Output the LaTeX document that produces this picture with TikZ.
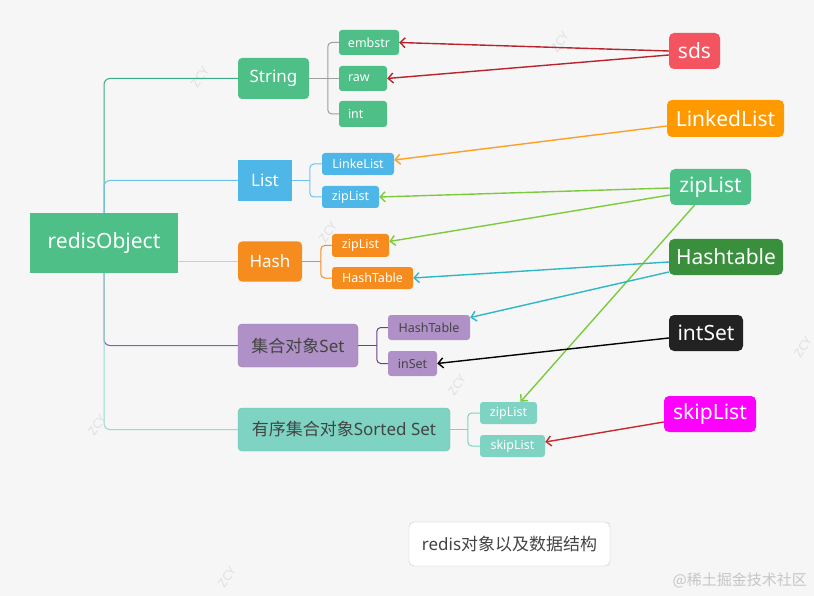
\documentclass[tikz,border=0pt]{standalone}
\usepackage{fontspec}
\setmainfont{Noto Sans}
\newfontfamily\cjk{Noto Sans CJK SC}
\usetikzlibrary{arrows.meta,calc}
\newcommand\fsz[1]{\fontsize{#1}{#1}\selectfont}
\definecolor{bgc}{RGB}{246,246,247}
\definecolor{cgreen}{RGB}{77,191,135}
\definecolor{cblue}{RGB}{78,183,232}
\definecolor{corange}{RGB}{247,140,30}
\definecolor{cpurple}{RGB}{175,145,199}
\definecolor{cpurpled}{RGB}{150,125,170}
\definecolor{cteal}{RGB}{126,211,195}
\definecolor{cteald}{RGB}{105,190,175}
\definecolor{csds}{RGB}{244,84,96}
\definecolor{cll}{RGB}{255,153,0}
\definecolor{cht}{RGB}{58,143,61}
\definecolor{cis}{RGB}{34,34,34}
\definecolor{csl}{RGB}{255,0,255}
\definecolor{ctxt}{RGB}{68,68,68}
\definecolor{lstr}{RGB}{58,175,135}
\definecolor{llist}{RGB}{110,195,235}
\definecolor{lhash}{RGB}{248,196,142}
\definecolor{lset}{RGB}{140,95,168}
\definecolor{lsort}{RGB}{150,220,208}
\definecolor{lsetc}{RGB}{105,65,140}
\definecolor{asds}{RGB}{185,35,43}
\definecolor{all}{RGB}{255,160,32}
\definecolor{azl}{RGB}{124,203,59}
\definecolor{aht}{RGB}{45,184,197}
\definecolor{asl}{RGB}{200,40,46}
\tikzset{
  box/.style={inner sep=0pt, align=center, text=white},
  big/.style={box, font=\fsz{17}},
  leaf/.style={box, rounded corners=3pt, font=\fsz{12.5}},
  tag/.style={box, rounded corners=5pt, font=\fsz{21}},
  trunk/.style={line width=1pt, rounded corners=6pt},
  brk/.style={line width=1pt, rounded corners=4pt},
  arr/.style={line width=1.4pt, -{Straight Barb[length=5pt,width=10pt,line width=1.4pt]}},
  wm/.style={text=gray!24, font=\fsz{12}, rotate=55, inner sep=0pt}
}
\begin{document}
\begin{tikzpicture}[x=1pt,y=-1pt]
\fill[bgc] (0,0) rectangle (814,596);
\useasboundingbox (0,0) rectangle (814,596);

% watermarks
\foreach \p in {(200,77),(560,42),(328,232),(457,385),(97,425),(227,577),(803,347)}
  \node[wm] at \p {ZCY};

% main nodes
\node[box, fill=cgreen, minimum width=148, minimum height=60, font=\fsz{21}] (rO) at (104,243) {redisObject};
\node[big, fill=cgreen, rounded corners=4pt, minimum width=71, minimum height=41] (String) at (273.5,78.5) {String};
\node[big, fill=cblue, minimum width=54, minimum height=41] (List) at (265,180.5) {List};
\node[big, fill=corange, rounded corners=4pt, minimum width=64, minimum height=40] (Hash) at (270,261.5) {Hash};
\node[big, fill=cpurple, draw=cpurpled, text=ctxt, rounded corners=4pt, minimum width=120, minimum height=43] (Set) at (298,345.5) {{\cjk 集合对象}Set};
\node[big, fill=cteal, draw=cteald, text=ctxt, rounded corners=4pt, minimum width=212, minimum height=43] (Sorted) at (344,429.5) {{\cjk 有序集合对象}Sorted Set};

% leaves
\node[leaf, fill=cgreen, minimum width=60, minimum height=25] (embstr) at (369,42.5) {embstr};
\node[leaf, fill=cgreen, text width=30pt, align=left, inner xsep=9pt, minimum height=25] (raw) at (363,78.5) {raw};
\node[leaf, fill=cgreen, text width=30pt, align=left, inner xsep=9pt, minimum height=26] (int) at (363,114) {int};
\node[leaf, fill=cblue, minimum width=72, minimum height=22] (LinkeList) at (358,164) {LinkeList};
\node[leaf, fill=cblue, minimum width=57, minimum height=22] (lzip) at (350.5,197) {zipList};
\node[leaf, fill=corange, minimum width=57, minimum height=23] (hzip) at (360.5,245.5) {zipList};
\node[leaf, fill=corange, minimum width=81, minimum height=22] (hHT) at (372.5,278) {HashTable};
\node[leaf, fill=cpurple, text=ctxt, minimum width=82, minimum height=25] (sHT) at (429,327.5) {HashTable};
\node[leaf, fill=cpurple, text=ctxt, minimum width=49, minimum height=25] (inSet) at (412.5,363.5) {inSet};
\node[leaf, fill=cteal, minimum width=57, minimum height=22] (zzip) at (508.5,413) {zipList};
\node[leaf, fill=cteal, minimum width=65, minimum height=22] (zskip) at (512.5,446) {skipList};

% right tags
\node[tag, fill=csds, minimum width=51, minimum height=36] (sds) at (694.5,51) {sds};
\node[tag, fill=cll, minimum width=117, minimum height=37] (LL) at (725.5,118.5) {LinkedList};
\node[tag, fill=cgreen, minimum width=81, minimum height=36] (ZL) at (710.5,187) {zipList};
\node[tag, fill=cht, minimum width=114, minimum height=36] (HT) at (726,257) {Hashtable};
\node[tag, fill=cis, minimum width=74, minimum height=36] (IS) at (706,333) {intSet};
\node[tag, fill=csl, minimum width=92, minimum height=36] (SL) at (710,414) {skipList};

% caption
\node[box, fill=white, draw=gray!45, rounded corners=5pt, text=ctxt, font=\fsz{17}, minimum width=201, minimum height=44] (cap) at (509.5,544) {redis{\cjk 对象以及数据结构}};
\node[text=gray!45, font=\cjk\fsz{15}, anchor=east, inner sep=0pt] (jj) at (807,580) {@稀土掘金技术社区};

% trunk
\draw[trunk, lstr] (String.west) -| (rO.north);
\draw[trunk, llist] (List.west) -| (rO.north);
\draw[line width=1pt, lhash] (Hash.west) -- (Hash.west -| rO.east);
\draw[trunk, lset] (Set.west) -| (rO.south);
\draw[trunk, lsort] (Sorted.west) -| (rO.south);

% brackets
\draw[brk, gray!75] (embstr.west) -| ($(int.west)+(-11,0)$) -- (int.west);
\draw[line width=1pt, gray!75] (String.east) -- (raw.west);
\draw[brk, llist] (LinkeList.west) -| ($(lzip.west)+(-12,0)$) -- (lzip.west);
\draw[line width=1pt, llist] (List.east) -- ($(List.east)+(18,0)$);
\draw[brk, corange] (hzip.west) -| ($(hHT.west)+(-11,0)$) -- (hHT.west);
\draw[line width=1pt, corange] (Hash.east) -- ($(Hash.east)+(19,0)$);
\draw[brk, lsetc] (sHT.west) -| ($(inSet.west)+(-11,0)$) -- (inSet.west);
\draw[line width=1pt, lsetc] (Set.east) -- ($(Set.east)+(19,0)$);
\draw[brk, cteal] (zzip.west) -| ($(zskip.west)+(-12,0)$) -- (zskip.west);
\draw[line width=1pt, cteal] (Sorted.east) -- ($(Sorted.east)+(18,0)$);

% arrows
\draw[arr, asds] (sds.west) -- (embstr.east);
\draw[arr, asds] ($(sds.west)+(0,4)$) -- (raw.east);
\draw[arr, all] ($(LL.west)+(0,7.5)$) -- ($(LinkeList.east)+(0,-4)$);
\draw[arr, azl] ($(ZL.west)+(0,1)$) -- (lzip.east);
\draw[arr, azl] ($(ZL.west)+(0,8)$) -- ($(hzip.east)+(0,-4)$);
\draw[arr, azl] ($(ZL.south)+(-16,0)$) -- ($(zzip.north)+(12,0)$);
\draw[arr, aht] ($(HT.west)+(0,5)$) -- (hHT.east);
\draw[arr, aht] ($(HT.west)+(0,15)$) -- ($(sHT.east)+(0,-10)$);
\draw[arr, black] ($(IS.west)+(0,5)$) -- (inSet.east);
\draw[arr, asl] ($(SL.west)+(0,8)$) -- ($(zskip.east)+(0,-4)$);
\end{tikzpicture}
\end{document}
